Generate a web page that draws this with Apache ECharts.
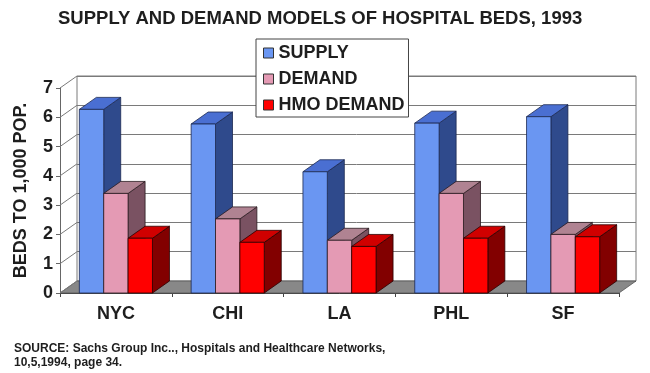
<!DOCTYPE html>
<html>
<head>
<meta charset="utf-8">
<script src="https://cdn.jsdelivr.net/npm/echarts@6/dist/echarts.min.js"></script>
<style>
html,body{margin:0;padding:0;background:#fff;}
#chart{width:650px;height:373px;}
</style>
</head>
<body>
<div id="chart"></div>
<script>
const titleText = 'SUPPLY AND DEMAND MODELS OF HOSPITAL BEDS, 1993';
const yAxisName = 'BEDS TO 1,000 POP.';
const categories = ['NYC', 'CHI', 'LA', 'PHL', 'SF'];
const seriesNames = ['SUPPLY', 'DEMAND', 'HMO DEMAND'];
const supply = [6.27, 5.77, 4.14, 5.80, 6.02];
const demand = [3.40, 2.53, 1.80, 3.40, 2.00];
const hmoDemand = [1.87, 1.73, 1.59, 1.87, 1.92];
const yTicks = [0, 1, 2, 3, 4, 5, 6, 7];
const sourceLines = [
  'SOURCE: Sachs Group Inc.., Hospitals and Healthcare Networks,',
  '10,5,1994, page 34.'
];

const DX = 17, DY = -12;
const FONT = 'Liberation Sans, Arial, sans-serif';
const TXT = '#1e1e1e';

const palettes = [
  { front: '#6a96f2', top: '#4a6fd2', side: '#2f4a8c', stroke: '#1c2850' },
  { front: '#e49ab4', top: '#b08392', side: '#7a5262', stroke: '#2a1a20' },
  { front: '#ff0000', top: '#d00000', side: '#820000', stroke: '#2a0000' }
];

function barRenderer(sIdx) {
  const c = palettes[sIdx];
  return function (params, api) {
    const i = api.value(0), v = api.value(1);
    const b = api.coord([i, 0]);
    const t = api.coord([i, v]);
    const band = api.size([1, 0])[0];
    const w = band * 0.218;
    const x0 = b[0] - 1.5 * w + sIdx * w, x1 = x0 + w;
    const yb = b[1], yt = t[1];
    const st = { stroke: c.stroke, lineWidth: 0.8 };
    return {
      type: 'group',
      children: [
        { type: 'polygon', shape: { points: [[x1, yt], [x1, yb], [x1 + DX, yb + DY], [x1 + DX, yt + DY]] },
          style: Object.assign({ fill: c.side }, st) },
        { type: 'polygon', shape: { points: [[x0, yt], [x1, yt], [x1 + DX, yt + DY], [x0 + DX, yt + DY]] },
          style: Object.assign({ fill: c.top }, st) },
        { type: 'rect', shape: { x: x0, y: yt, width: w, height: yb - yt },
          style: Object.assign({ fill: c.front }, st) }
      ]
    };
  };
}

function wallRenderer(params, api) {
  const cs = params.coordSys;
  const x = cs.x, y = cs.y, w = cs.width, h = cs.height;
  const children = [];
  children.push({
    type: 'polygon',
    shape: { points: [[x, y + h], [x + w, y + h], [x + w + DX, y + h + DY], [x + DX, y + h + DY]] },
    style: { fill: '#888888', stroke: '#555', lineWidth: 0.8 }
  });
  yTicks.forEach(function (tv) {
    const p = api.coord([0, tv]);
    children.push({
      type: 'line',
      shape: { x1: x, y1: p[1], x2: x + DX, y2: p[1] + DY },
      style: { stroke: '#7a7a7a', lineWidth: 1 }
    });
  });
  return { type: 'group', children: children };
}

function toData(arr) { return arr.map(function (v, i) { return [i, v]; }); }
const allValues = [supply, demand, hmoDemand];

const chart = echarts.init(document.getElementById('chart'), null, { renderer: 'canvas' });
chart.setOption({
  backgroundColor: '#fff',
  animation: false,
  title: {
    text: titleText,
    left: 58,
    top: 9,
    padding: 0,
    textStyle: { fontFamily: FONT, fontSize: 18.5, fontWeight: 'bold', color: TXT }
  },
  legend: {
    orient: 'vertical',
    left: 256,
    top: 39,
    itemWidth: 10,
    itemHeight: 10,
    itemGap: 8,
    padding: [5, 4, 3, 7],
    backgroundColor: '#fff',
    borderColor: '#444',
    borderWidth: 1,
    icon: 'rect',
    selectedMode: false,
    itemStyle: { borderColor: '#333', borderWidth: 1 },
    textStyle: { fontFamily: FONT, fontSize: 18, fontWeight: 'bold', color: TXT },
    data: seriesNames
  },
  grid: [
    { left: 60, right: 31, top: 88, bottom: 80, show: false },
    { left: 77, right: 14, top: 76, bottom: 92, show: true, backgroundColor: '#fff', borderColor: '#7a7a7a', borderWidth: 1 }
  ],
  xAxis: [
    {
      type: 'category', gridIndex: 0, data: categories,
      axisLine: { show: true, lineStyle: { color: '#444', width: 1 } },
      axisTick: { show: true, length: 4, lineStyle: { color: '#444' } },
      axisLabel: { fontFamily: FONT, fontSize: 18, fontWeight: 'bold', color: TXT, margin: 12 },
      splitLine: { show: false }
    },
    { type: 'category', gridIndex: 1, data: categories, show: false }
  ],
  yAxis: [
    {
      type: 'value', gridIndex: 0, min: 0, max: 7, interval: 1,
      name: yAxisName, nameLocation: 'middle', nameGap: 30,
      nameTextStyle: { fontFamily: FONT, fontSize: 18, fontWeight: 'bold', color: TXT },
      axisLine: { show: true, lineStyle: { color: '#666', width: 1 } },
      axisTick: { show: true, length: 4, lineStyle: { color: '#666' } },
      axisLabel: { fontFamily: FONT, fontSize: 18, fontWeight: 'bold', color: TXT, margin: 7,
        formatter: function (v) { return String(yTicks[v] !== undefined ? yTicks[v] : v); } },
      splitLine: { show: false }
    },
    {
      type: 'value', gridIndex: 1, min: 0, max: 7, interval: 1,
      axisLine: { show: false }, axisTick: { show: false }, axisLabel: { show: false },
      splitLine: { show: true, lineStyle: { color: '#7a7a7a', width: 1 } }
    }
  ],
  graphic: sourceLines.map(function (s, k) {
    return {
      type: 'text', left: 14, top: 343 + k * 14,
      style: { text: s, font: 'bold 12px "Liberation Sans Narrow", "Arial Narrow", sans-serif', fill: TXT }
    };
  }),
  series: [
    {
      type: 'custom', name: 'walls', xAxisIndex: 0, yAxisIndex: 0, z: 1,
      data: [[0, 0]], encode: { x: 0, y: 1 }, renderItem: wallRenderer, silent: true
    }
  ].concat(seriesNames.map(function (n, s) {
    return {
      type: 'custom', name: n, xAxisIndex: 0, yAxisIndex: 0, z: 3 + s,
      itemStyle: { color: palettes[s].front },
      data: toData(allValues[s]), encode: { x: 0, y: 1 },
      renderItem: barRenderer(s)
    };
  }))
});
</script>
</body>
</html>
